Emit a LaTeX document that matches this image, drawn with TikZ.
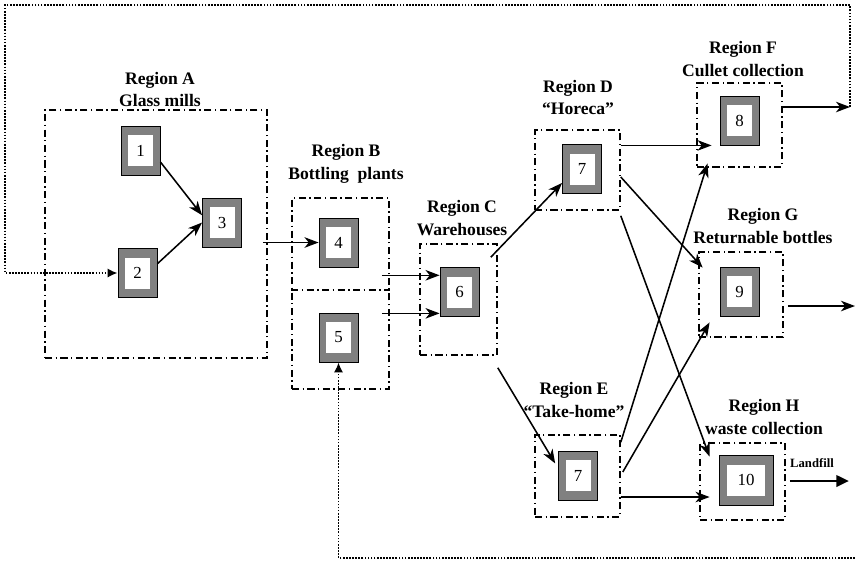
\documentclass[tikz,border=0pt]{standalone}
\usepackage{fontspec}
\setmainfont{Liberation Serif}
\usetikzlibrary{arrows.meta,calc}

\begin{document}
\begin{tikzpicture}[x=0.025cm, y=-0.025cm,
        region/.style 2 args={draw, line width=1.1pt, dash pattern=on 5pt off 2.5pt on 1pt off 2.5pt,
            minimum width=#1*0.025cm, minimum height=#2*0.025cm, inner sep=0pt},
        plant/.style={draw=black, line width=0.6pt, fill=gray, inner sep=0pt,
            minimum width=39*0.025cm, minimum height=49*0.025cm},
        core/.style={fill=white, inner sep=0pt, minimum width=25*0.025cm, minimum height=31*0.025cm,
            font=\fontsize{12}{14}\selectfont},
        regtitle/.style={align=center, font=\bfseries\fontsize{12.5}{16}\selectfont},
        flow/.style={-{Stealth[length=10pt,width=7.5pt,inset=3pt]}, line width=1.1pt},
        feedback/.style={-{Latex[length=7pt,width=6.5pt]}, line width=1.4pt, dash pattern=on 1.2pt off 1pt},
        dump/.style={-{Triangle[length=9pt,width=8pt]}, line width=2pt}]
        \useasboundingbox (0,0) rectangle (855,562);

        % regions
        \node[region={222}{248}] (regA) at (156,234) {};
        \node[region={97}{191}] (regB) at (340.5,293.5) {};
        \draw[region={0}{0}] (regB.west |- 0,290) -- (regB.east |- 0,290);
        \node[region={77}{111}] (regC) at (458.5,299.5) {};
        \node[region={85}{80}] (regD) at (577.5,170) {};
        \node[region={85}{82}] (regE) at (577.5,476) {};
        \node[region={85}{84}] (regF) at (739.5,125) {};
        \node[region={84}{85}] (regG) at (741,294.5) {};
        \node[region={85}{77}] (regH) at (742.5,481.5) {};

        \node[regtitle] (tA) at (160,89.5) {Region A\\Glass mills};
        \node[regtitle] (tB) at (346,164) {Region B\\Bottling\ \ plants};
        \node[regtitle] (tC) at (462,218) {Region C\\Warehouses};
        \node[regtitle] (tD) at (578,97.5) {Region D\\``Horeca''};
        \node[regtitle] (tE) at (574,400) {Region E\\``Take-home''};
        \node[regtitle] (tF) at (743,59) {Region F\\Cullet collection};
        \node[regtitle] (tG) at (763,226) {Region G\\Returnable bottles};
        \node[regtitle] (tH) at (764,417) {Region H\\waste collection};

        % plants
        \node[plant, label={[core]center:1}] (n1) at (140.5,150.5) {};
        \node[plant, label={[core]center:2}] (n2) at (137.5,273) {};
        \node[plant, label={[core]center:3}] (n3) at (222,222.5) {};
        \node[plant, label={[core]center:4}] (n4) at (338.5,242.5) {};
        \node[plant, label={[core]center:5}] (n5) at (338.5,337.5) {};
        \node[plant, label={[core]center:6}] (n6) at (459.5,292) {};
        \node[plant, label={[core]center:7}] (n7d) at (582,169) {};
        \node[plant, label={[core]center:7}] (n7e) at (578,475.5) {};
        \node[plant, label={[core]center:8}] (n8) at (739.5,120.5) {};
        \node[plant, label={[core]center:9}] (n9) at (739.5,291.5) {};
        \node[plant, minimum width=54*0.025cm, minimum height=50*0.025cm,
            label={[core, minimum width=38*0.025cm]center:10}] (n10) at (746,480) {};

        \coordinate (cullet) at (850,107);
        \coordinate (reuse) at (855,306);
        \coordinate (landfill) at (849,481);
        \coordinate (topleft) at (5,5);
        \coordinate (waste) at (855,558);
        \node[font=\bfseries\fontsize{9}{10}\selectfont] (lf) at (812,463) {Landfill};

        % flows
        \draw[flow] (n1.-30) -- (n3.160);
        \draw[flow] (n2.25) -- (n3.west);
        \draw[flow] ($(n4.west -| regA.east)+(-5,0)$) -- (n4.west);
        \draw[flow] ($(n6.140 -| regB.east)+(-8,0)$) -- (n6.140);
        \draw[flow] ($(n6.227 -| regB.east)+(-8,0)$) -- (n6.227);
        \draw[flow] ($(regC.north east)+(-7,14)$) -- (n7d.215);
        \draw[flow, shorten >=4pt] ($(regC.south east)+(0,12)$) -- (n7e.160);
        \draw[flow] (regD.east |- n8.south) -- ($(n8.south west)+(-8,0)$);
        \draw[flow] ($(regD.east)+(0,7)$) -- ($(n9.north west)+(-17,1)$);
        \draw[flow] ($(regD.south east)+(0,5)$) -- ($(n10.north west)+(-9,2)$);
        \draw[flow] ($(regE.north east)+(0,8)$) -- ($(n8.south west)+(-12,18)$);
        \draw[flow] ($(regE.east)+(2,-4)$) -- ($(n9.south west)+(-10,6)$);
        \draw[flow] ($(regE.east)+(0,21)$) -- ($(n10.west)+(-9,17)$);
        \draw[flow] (cullet -| regF.east) -- (cullet);
        \draw[flow] ($(reuse -| regG.east)+(4,0)$) -- (reuse);
        \draw[dump] ($(landfill -| regH.east)+(4,0)$) -- (landfill);

        % returns
        \draw[feedback] (cullet) |- (topleft) |- (n2);
        \draw[feedback] (waste) -| (n5);
    \end{tikzpicture}
\end{document}
